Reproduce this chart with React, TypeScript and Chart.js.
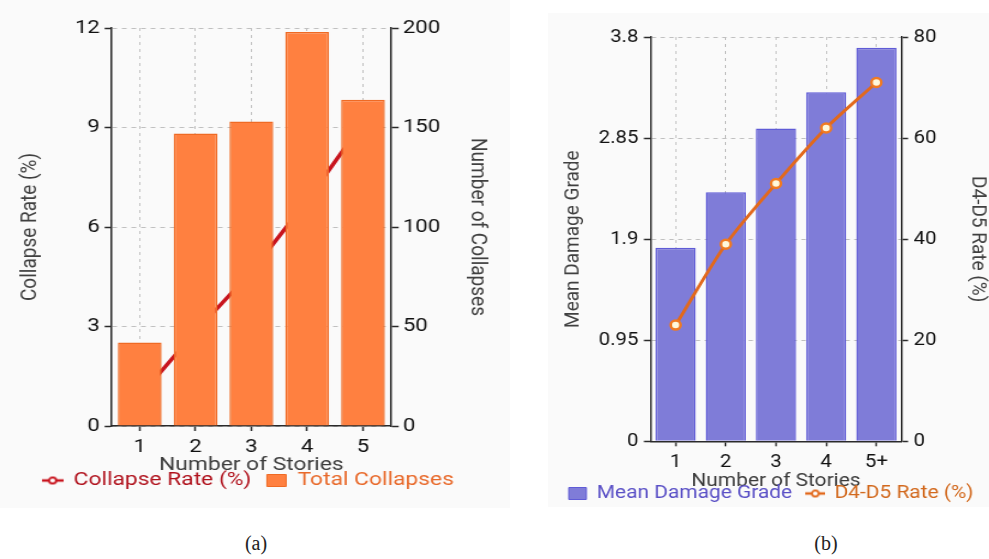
import React, { useEffect, useRef } from "react";
import { Chart, registerables } from "chart.js";

Chart.register(...registerables);

// (a) collapse statistics by number of stories
const storiesA = ["1", "2", "3", "4", "5"];
const collapseRate = [0.9, 2.85, 4.65, 6.8, 9.15];
const totalCollapses = [42, 147, 153, 198, 164];
const rateTicksA = [0, 3, 6, 9, 12];
const countTicksA = [0, 50, 100, 150, 200];

// (b) damage severity by number of stories
const storiesB = ["1", "2", "3", "4", "5+"];
const meanDamageGrade = [1.82, 2.34, 2.94, 3.28, 3.7];
const d4d5Rate = [23, 39, 51, 62, 71];
const gradeTicksB = [0, 0.95, 1.9, 2.85, 3.8];
const rateTicksB = [0, 20, 40, 60, 80];

const FONT = "Roboto";
const GRID = "#c0c0c0";
const AXIS = "#2a2a2a";
const TICK_TEXT = "#111111";
const TITLE_TEXT = "#404040";

const RED = "#c8141e";
const ORANGE = "#ff8040";
const ORANGE_EDGE = "#ef6a24";
const PURPLE = "#7f7cd8";
const PURPLE_EDGE = "#5f5bd6";
const LINE_ORANGE = "#e2691c";

function lineIcon(color: string, fill: string) {
  const c = document.createElement("canvas");
  c.width = 18;
  c.height = 10;
  const g = c.getContext("2d")!;
  g.strokeStyle = color;
  g.lineWidth = 2.5;
  g.beginPath();
  g.moveTo(0, 5);
  g.lineTo(18, 5);
  g.stroke();
  g.beginPath();
  g.arc(9, 5, 3, 0, Math.PI * 2);
  g.fillStyle = fill;
  g.fill();
  g.lineWidth = 1.8;
  g.stroke();
  return c;
}

function fixedTicks(values: number[]) {
  return (axis: any) => {
    axis.ticks = values.map((v) => ({ value: v }));
  };
}

function valueAxis(o: {
  position: "left" | "right";
  values: number[];
  title: string;
  titlePad: { top: number; bottom: number };
  tickLen: number;
  tickPad: number;
  gridOnArea: boolean;
}) {
  return {
    type: "linear",
    position: o.position,
    min: o.values[0],
    max: o.values[o.values.length - 1],
    afterBuildTicks: fixedTicks(o.values),
    grid: {
      display: true,
      drawOnChartArea: o.gridOnArea,
      color: GRID,
      lineWidth: 1,
      tickLength: o.tickLen,
      tickColor: AXIS,
      tickWidth: 1.5,
      tickBorderDash: [],
    },
    border: { display: true, color: AXIS, width: 1.5, dash: [4, 4] },
    ticks: {
      color: TICK_TEXT,
      padding: o.tickPad,
      font: { family: FONT, size: 18.5 },
      callback: (v: number) => String(v),
    },
    title: {
      display: true,
      text: o.title,
      color: TITLE_TEXT,
      font: { family: FONT, size: 19 },
      padding: o.titlePad,
    },
  };
}

function categoryAxis(labels: string[], titlePad: { top: number; bottom: number }) {
  return {
    type: "category",
    labels,
    offset: true,
    grid: {
      offset: false,
      color: GRID,
      lineWidth: 1,
      tickLength: 5,
      tickColor: AXIS,
      tickWidth: 1.5,
      tickBorderDash: [],
    },
    border: { display: true, color: AXIS, width: 1.5, dash: [3, 4] },
    ticks: {
      color: TICK_TEXT,
      padding: 5,
      maxRotation: 0,
      font: { family: FONT, size: 18.5 },
    },
    title: {
      display: true,
      text: "Number of Stories",
      color: "#3c3c3c",
      font: { family: FONT, size: 19 },
      padding: titlePad,
    },
  };
}

// legend entries keep the dataset order; icons and text colours are per dataset
function legendOptions(icons: any[], colors: string[]) {
  return {
    position: "bottom",
    labels: {
      usePointStyle: true,
      pointStyleWidth: 16,
      boxHeight: 12,
      padding: 13,
      font: { family: FONT, size: 19 },
      generateLabels: (chart: any) => {
        const items = (Chart.defaults.plugins.legend.labels as any).generateLabels(chart);
        return items
          .slice()
          .sort((a: any, b: any) => a.datasetIndex - b.datasetIndex)
          .map((it: any) => {
            const ds = chart.data.datasets[it.datasetIndex];
            const isBar = ds.type === "bar";
            return {
              ...it,
              pointStyle: icons[it.datasetIndex],
              fillStyle: isBar ? ds.backgroundColor : it.fillStyle,
              strokeStyle: isBar ? ds.borderColor : it.strokeStyle,
              lineWidth: isBar ? 1 : it.lineWidth,
              fontColor: colors[it.datasetIndex],
            };
          });
      },
    },
  };
}

function CollapseChart() {
  const ref = useRef<HTMLCanvasElement | null>(null);
  useEffect(() => {
    if (!ref.current) return;
    const chart = new Chart(ref.current, {
      type: "bar",
      data: {
        labels: storiesA,
        datasets: [
          {
            type: "line",
            label: "Collapse Rate (%)",
            data: collapseRate,
            yAxisID: "y",
            borderColor: RED,
            backgroundColor: "#ffffff",
            borderWidth: 3.5,
            pointRadius: 4,
            pointBackgroundColor: "#ffffff",
            pointBorderColor: RED,
            pointBorderWidth: 2,
            tension: 0,
            order: 2,
          },
          {
            type: "bar",
            label: "Total Collapses",
            data: totalCollapses,
            yAxisID: "y1",
            backgroundColor: ORANGE,
            borderColor: ORANGE_EDGE,
            borderWidth: 1.5,
            categoryPercentage: 0.8,
            barPercentage: 0.98,
            order: 1,
          },
        ],
      } as any,
      options: {
        responsive: false,
        animation: false,
        layout: { padding: { top: 28, left: 4, right: 0, bottom: 0 } },
        plugins: {
          legend: legendOptions([lineIcon(RED, "#ffffff"), "rect"], ["#b0121d", "#e8692a"]),
          tooltip: { enabled: false },
        },
        scales: {
          x: categoryAxis(storiesA, { top: -9.6, bottom: -18.4 }),
          y: valueAxis({
            position: "left",
            values: rateTicksA,
            title: "Collapse Rate (%)",
            titlePad: { top: 9.6, bottom: 22 },
            tickLen: 6,
            tickPad: 4,
            gridOnArea: true,
          }),
          y1: valueAxis({
            position: "right",
            values: countTicksA,
            title: "Number of Collapses",
            titlePad: { top: 1.1, bottom: 15.7 },
            tickLen: 6.5,
            tickPad: 3.5,
            gridOnArea: false,
          }),
        },
      } as any,
    });
    return () => chart.destroy();
  }, []);
  return (
    <canvas
      ref={ref}
      width={410}
      height={500}
      style={{
        position: "absolute",
        left: 0,
        top: 0,
        transform: "scaleX(1.2)",
        transformOrigin: "0 0",
      }}
    />
  );
}

function DamageChart() {
  const ref = useRef<HTMLCanvasElement | null>(null);
  useEffect(() => {
    if (!ref.current) return;
    const chart = new Chart(ref.current, {
      type: "bar",
      data: {
        labels: storiesB,
        datasets: [
          {
            type: "bar",
            label: "Mean Damage Grade",
            data: meanDamageGrade,
            yAxisID: "y",
            backgroundColor: PURPLE,
            borderColor: PURPLE_EDGE,
            borderWidth: 1.5,
            categoryPercentage: 0.8,
            barPercentage: 1.0,
            order: 2,
          },
          {
            type: "line",
            label: "D4-D5 Rate (%)",
            data: d4d5Rate,
            yAxisID: "y1",
            borderColor: LINE_ORANGE,
            backgroundColor: "#fff8dc",
            borderWidth: 3,
            pointRadius: 4.5,
            pointBackgroundColor: "#fff8dc",
            pointBorderColor: "#f07a22",
            pointBorderWidth: 2.5,
            tension: 0.3,
            order: 1,
          },
        ],
      } as any,
      options: {
        responsive: false,
        animation: false,
        layout: { padding: { top: 37, left: 2, right: 0, bottom: 0 } },
        plugins: {
          legend: legendOptions(["rect", lineIcon(LINE_ORANGE, "#ffffff")], ["#5a50c6", "#d2691e"]),
          tooltip: { enabled: false },
        },
        scales: {
          x: categoryAxis(storiesB, { top: -8.4, bottom: -21.9 }),
          y: valueAxis({
            position: "left",
            values: gradeTicksB,
            title: "Mean Damage Grade",
            titlePad: { top: 7.5, bottom: 7 },
            tickLen: 6,
            tickPad: 5,
            gridOnArea: true,
          }),
          y1: valueAxis({
            position: "right",
            values: rateTicksB,
            title: "D4-D5 Rate (%)",
            titlePad: { top: -0.5, bottom: 21.4 },
            tickLen: 6,
            tickPad: 5,
            gridOnArea: false,
          }),
        },
      } as any,
    });
    return () => chart.destroy();
  }, []);
  return (
    <canvas
      ref={ref}
      width={400}
      height={513}
      style={{
        position: "absolute",
        left: 550,
        top: 0,
        transform: "scaleX(1.1)",
        transformOrigin: "0 0",
      }}
    />
  );
}

export default function App() {
  return (
    <div
      style={{
        position: "fixed",
        left: 0,
        top: 0,
        width: 989,
        height: 559,
        background: "#ffffff",
        overflow: "hidden",
      }}
    >
      <div style={{ position: "absolute", left: 0, top: 0, width: 510, height: 508, background: "#fafafa" }} />
      <div style={{ position: "absolute", left: 548, top: 13, width: 441, height: 494, background: "#fafafa" }} />
      <CollapseChart />
      <DamageChart />
      <div
        style={{
          position: "absolute",
          left: 226,
          top: 532,
          width: 60,
          textAlign: "center",
          fontFamily: "'Liberation Serif', serif",
          fontSize: 20,
          color: "#222",
        }}
      >
        (a)
      </div>
      <div
        style={{
          position: "absolute",
          left: 796,
          top: 532,
          width: 60,
          textAlign: "center",
          fontFamily: "'Liberation Serif', serif",
          fontSize: 20,
          color: "#222",
        }}
      >
        (b)
      </div>
    </div>
  );
}
